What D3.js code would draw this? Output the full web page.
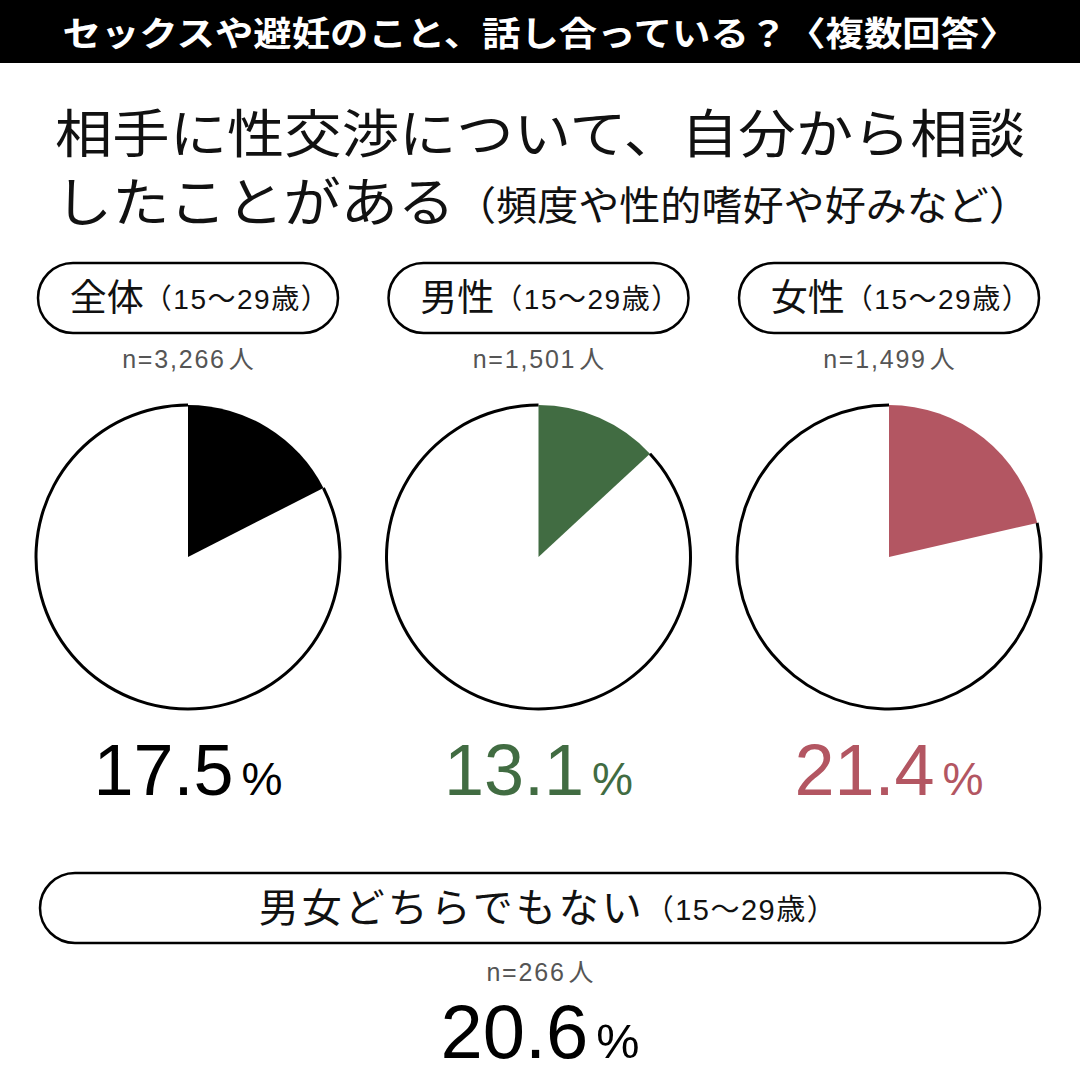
<!DOCTYPE html>
<html><head><meta charset="utf-8">
<script src="https://cdn.jsdelivr.net/npm/d3@7"></script>
<style>body{margin:0;background:#fff}svg{display:block}</style>
</head><body>
<script>
const headerText = "セックスや避妊のこと、話し合っている？〈複数回答〉";
const titleLine1 = "相手に性交渉について、自分から相談";
const titleLine2 = "したことがある";
const titleNote = "（頻度や性的嗜好や好みなど）";
const groups = ["全体", "男性", "女性", "男女どちらでもない"];
const ageLabel = "（15〜29歳）";
const nValues = ["3,266", "1,501", "1,499", "266"];
const percents = [17.5, 13.1, 21.4, 20.6];
const colors = ["#000000", "#416c42", "#b35662", "#000000"];

const W = 1080, H = 1080;
const svg = d3.select("body").append("svg").attr("width", W).attr("height", H);
const jp = "'Noto Sans CJK JP', sans-serif";
const lat = "'Liberation Sans', 'Noto Sans CJK JP', sans-serif";

// header
svg.append("rect").attr("x", 0).attr("y", 0).attr("width", W).attr("height", 63).attr("fill", "#000");
svg.append("text").attr("x", 540).attr("y", 46).attr("text-anchor", "middle")
  .attr("font-family", jp).attr("font-weight", 700).attr("font-size", 34).attr("fill", "#fff")
  .attr("textLength", 955).attr("lengthAdjust", "spacingAndGlyphs").text(headerText);

// title
svg.append("text").attr("x", 540).attr("y", 153).attr("text-anchor", "middle")
  .attr("font-family", jp).attr("font-size", 52).attr("fill", "#111")
  .attr("textLength", 970).attr("lengthAdjust", "spacingAndGlyphs").text(titleLine1);
svg.append("text").attr("x", 55).attr("y", 222)
  .attr("font-family", jp).attr("font-size", 53).attr("fill", "#111")
  .attr("textLength", 400).attr("lengthAdjust", "spacingAndGlyphs").text(titleLine2);
svg.append("text").attr("x", 455).attr("y", 220)
  .attr("font-family", jp).attr("font-size", 40).attr("fill", "#111")
  .attr("textLength", 575).attr("lengthAdjust", "spacingAndGlyphs").text(titleNote);

const xScale = d3.scalePoint().domain(groups.slice(0, 3)).range([188, 889]);
const cy = 557, r = 152;

function pill(x0, x1, y0, h, name, fs, fs2, ls, shift) {
  svg.append("rect").attr("x", x0).attr("y", y0).attr("width", x1 - x0).attr("height", h)
    .attr("rx", h / 2).attr("ry", h / 2).attr("fill", "#fff").attr("stroke", "#000").attr("stroke-width", 2.5);
  const t = svg.append("text").attr("x", (x0 + x1) / 2 + shift).attr("y", y0 + h / 2 + fs * 0.36)
    .attr("text-anchor", "middle").attr("fill", "#111");
  t.append("tspan").attr("font-family", jp).attr("font-size", fs).attr("letter-spacing", ls).text(name);
  t.append("tspan").attr("font-family", lat).attr("font-size", fs2).attr("letter-spacing", 1.5).attr("dy", -2).text(ageLabel);
}
function nLabel(x, y, n) {
  const t = svg.append("text").attr("x", x).attr("y", y).attr("text-anchor", "middle")
    .attr("fill", "#555").attr("font-family", lat).attr("font-size", 25);
  t.append("tspan").attr("letter-spacing", 1.8).text("n=" + n);
  t.append("tspan").attr("font-family", jp).attr("dx", 3).text("人");
}
function pctLabel(x, y, v, c, fs) {
  const t = svg.append("text").attr("x", x).attr("y", y).attr("text-anchor", "middle")
    .attr("fill", c).attr("font-family", lat);
  t.append("tspan").attr("font-size", fs).text(v.toFixed(1));
  t.append("tspan").attr("font-size", fs * 0.64).attr("dx", 8).text("%");
}

const pie = d3.pie().sort(null).value(d => d);
const arc = d3.arc().innerRadius(0).outerRadius(r);
const ring = d3.arc().innerRadius(r - 1.5).outerRadius(r + 1.5);

groups.slice(0, 3).forEach((g, i) => {
  const cx = xScale(g);
  pill(cx - 150, cx + 150, 263, 70, g, 37, 28, 0, 12);
  nLabel(cx, 368, nValues[i]);
  const arcs = pie([percents[i], 100 - percents[i]]);
  const gp = svg.append("g").attr("transform", `translate(${cx},${cy})`);
  gp.append("path").attr("d", arc(arcs[1])).attr("fill", "#fff");
  gp.append("path").attr("d", arc(arcs[0])).attr("fill", colors[i]);
  gp.append("path").attr("d", ring(arcs[1])).attr("fill", "#000");
  pctLabel(cx, 795, percents[i], colors[i], 72);
});

// bottom group
pill(40, 1040, 873, 70, groups[3], 40, 29, 3, 8);
nLabel(540, 981, nValues[3]);
pctLabel(540, 1058, percents[3], colors[3], 76);
</script>
</body></html>
